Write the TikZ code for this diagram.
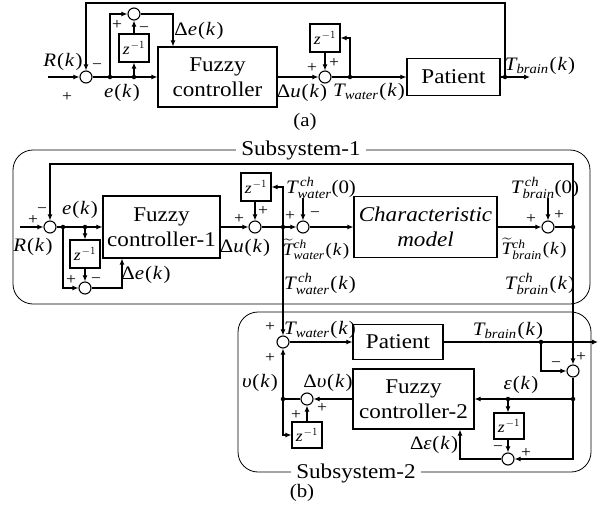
\documentclass[tikz,border=0pt]{standalone}
\usepackage{amsmath}
\usepackage{fontspec}
\setmainfont[FakeStretch=1.1]{Liberation Serif}
\usetikzlibrary{arrows.meta,calc}

\newcommand\kk{\kern0.8pt(\kern1pt\textit{k}\kern1pt)}
\newcommand\zinv{$\textit{z}^{\kern1pt-1}$}
\newcommand\Tsub[1]{$\textit{T}_{\textit{#1}}$}
\newcommand\Tch[1]{$\textit{T}^{\,\textit{ch}}_{\textit{#1}}$}
\newcommand\Ttil[1]{$\widetilde{\textit{T}}{}^{\textit{ch}}_{\textit{#1}}$}

\tikzset{
 line/.style={line width=1.1pt},
 arr/.style={line width=1.1pt,-{Latex[length=6pt,width=5pt]}},
 sumc/.style={circle,draw,line width=1.1pt,minimum size=12pt,inner sep=0pt,fill=white},
 dotn/.style={circle,fill,inner sep=0pt,minimum size=4.5pt},
 blk/.style={draw,line width=1.1pt,align=center,inner sep=0pt,font=\fontsize{21}{25}\selectfont},
 zbox/.style={draw,line width=1.1pt,inner sep=0pt,minimum width=30pt,minimum height=28pt,font=\fontsize{16}{16}\selectfont},
 lab/.style={inner sep=0pt,font=\fontsize{19}{19}\selectfont},
 tlab/.style={inner sep=0pt,font=\fontsize{17.5}{17.5}\selectfont},
 sgn/.style={inner sep=0pt,font=\fontsize{16}{16}\selectfont},
 frame/.style={draw,line width=0.8pt,rounded corners=20pt},
 ttl/.style={fill=white,inner xsep=5pt,inner ysep=1pt,font=\fontsize{21}{21}\selectfont},
}

\begin{document}
\begin{tikzpicture}[x=1pt,y=-1pt]
\useasboundingbox (0,0) rectangle (600,514);

% ---------------- (a) ----------------
\node[sumc] (sA) at (86,77) {};
\coordinate (inA) at (48,77);
\draw[arr] (inA) -- (sA);
\node[dotn] (dA1) at (110,77) {};
\node[dotn] (dA2) at (134,77) {};
\node[blk,minimum width=119pt,minimum height=60pt] (fcA) at (217.5,77) {Fuzzy\\controller};
\draw[arr] (sA) -- (fcA);
\node[sumc] (sA2) at (134,14) {};
\node[zbox] (zA) at (134,48) {\zinv};
\draw[arr] (dA1) |- (sA2);
\draw[arr] (dA2) -- (zA);
\draw[arr] (zA) -- (sA2);
\coordinate (deA) at (173,14);
\draw[arr] (sA2) -- (deA) -- (deA |- fcA.north);
\node[sumc] (sA3) at (325,77) {};
\draw[arr] (fcA) -- (sA3);
\node[zbox] (zA2) at (325,38) {\zinv};
\draw[arr] (zA2) -- (sA3);
\node[dotn] (dA3) at (350,77) {};
\draw[line] (sA3) -- (dA3);
\draw[arr] (dA3) |- (zA2);
\node[blk,minimum width=93pt,minimum height=37pt] (ptA) at (453.5,77) {Patient};
\draw[arr] (dA3) -- (ptA);
\node[dotn] (outA) at (505,77) {};
\draw[line] (ptA) -- (outA);
\coordinate (endA) at (530,77);
\draw[arr] (outA) -- (endA);
\coordinate (topA) at (86,3);
\draw[arr] (outA) |- (topA) -- (sA);

\node[lab] (lRA) at (63,62) {\textit{R}\kk};
\node[sgn] (pA1) at (67,97) {+};
\node[sgn] (mA1) at (97,67) {−};
\node[lab] (leA) at (122,93) {\textit{e}\kk};
\node[sgn] (pA2) at (117,25) {+};
\node[sgn] (mA2) at (144,30) {−};
\node[lab] (ldeA) at (199,31) {Δ\textit{e}\kk};
\node[lab] (lduA) at (302,93) {Δ\textit{u}\kk};
\node[sgn] (pA3) at (312,68) {+};
\node[sgn] (pA4) at (334,63) {+};
\node[lab] (ltwA) at (369,92) {\Tsub{water}\kk};
\node[lab] (ltbA) at (540,66) {\Tsub{brain}\kk};
\node[lab] (capA) at (305,122) {(a)};

% ---------------- (b) frames ----------------
\draw[frame] (13,150) rectangle (590,304);
\node[ttl] (t1) at (301,150) {Subsystem-1};
\draw[frame] (238,312) rectangle (591,472);
\node[ttl] (t2) at (356,473) {Subsystem-2};

% ---------------- Subsystem-1 ----------------
\node[sumc] (s1) at (50,227) {};
\coordinate (in1) at (20,227);
\draw[arr] (in1) -- (s1);
\node[dotn] (d1) at (63,227) {};
\node[dotn] (d2) at (85,227) {};
\node[blk,minimum width=117pt,minimum height=62pt] (fc1) at (161.5,227) {Fuzzy\\controller-1};
\draw[arr] (s1) -- (fc1);
\node[zbox] (z1) at (85,254) {\zinv};
\node[sumc] (s1b) at (85,288) {};
\draw[arr] (d2) -- (z1);
\draw[arr] (z1) -- (s1b);
\draw[arr] (d1) |- (s1b);
\coordinate (de1) at (122,288);
\draw[arr] (s1b) -- (de1) -- (de1 |- fc1.south);
\node[sumc] (s2) at (255,227) {};
\draw[arr] (fc1) -- (s2);
\node[zbox] (z2) at (256,187) {\zinv};
\draw[arr] (z2.south -| s2) -- (s2);
\node[dotn] (d3) at (283,227) {};
\draw[line] (s2) -- (d3);
\draw[arr] (d3) |- (z2);
\node[sumc] (s3) at (303,227) {};
\draw[arr] (d3) -- (s3);
\coordinate (tw0) at (303,198);
\draw[arr] (tw0) -- (s3);
\node[blk,font=\fontsize{21}{25}\selectfont\itshape,minimum width=143pt,minimum height=61pt] (cm) at (425.5,227) {Characteristic\\model};
\draw[arr] (s3) -- (cm);
\node[sumc] (s4) at (548,227) {};
\draw[arr] (cm) -- (s4);
\coordinate (tb0) at (548,198);
\draw[arr] (tb0) -- (s4);
\node[dotn] (d4) at (573,227) {};
\draw[line] (s4) -- (d4);
\coordinate (top1) at (50,164);
\draw[arr] (d4) |- (top1) -- (s1);

\node[sgn] (p11) at (33,220) {+};
\node[sgn] (m11) at (42,211) {−};
\node[lab] (lR1) at (33,247) {\textit{R}\kk};
\node[lab] (le1) at (80,210) {\textit{e}\kk};
\node[sgn] (p12) at (71,280) {+};
\node[sgn] (m12) at (96,281) {−};
\node[lab] (lde1) at (146,275) {Δ\textit{e}\kk};
\node[sgn] (p13) at (239,219) {+};
\node[sgn] (p14) at (263,211) {+};
\node[lab] (ldu1) at (245,248) {Δ\textit{u}\kk};
\node[sgn] (p15) at (290,216) {+};
\node[sgn] (m15) at (315,215) {−};
\node[lab] (ltw0) at (321,188) {\Tch{water}(0)};
\node[tlab] (ltwt) at (316,249) {\Ttil{water}\kk};
\node[sgn] (p16) at (531,219) {+};
\node[sgn] (p17) at (559,215) {+};
\node[lab] (ltb0) at (545,188) {\Tch{brain}(0)};
\node[tlab] (ltbt) at (534,249) {\Ttil{brain}\kk};
\node[lab] (ltwk) at (320,284) {\Tch{water}\kk};
\node[lab] (ltbk) at (540,284) {\Tch{brain}\kk};

% ---------------- Subsystem-2 ----------------
\node[sumc] (s5) at (283,342) {};
\draw[arr] (d3) -- (s5);
\node[sumc] (s6) at (573,371) {};
\draw[arr] (d4) -- (s6);
\node[blk,minimum width=90pt,minimum height=35pt] (pt2) at (398,342) {Patient};
\draw[arr] (s5) -- (pt2);
\node[dotn] (d5) at (541,342) {};
\draw[line] (pt2) -- (d5);
\coordinate (end2) at (598,342);
\draw[arr] (d5) -- (end2);
\draw[arr] (d5) |- (s6);
\node[dotn] (d6) at (573,399) {};
\draw[line] (s6) -- (d6);
\node[blk,minimum width=121pt,minimum height=60pt] (fc2) at (413.5,399) {Fuzzy\\controller-2};
\node[dotn] (d7) at (508,399) {};
\draw[arr] (d6) -- (fc2);
\node[zbox,minimum height=26pt] (z3) at (509,426) {\zinv};
\node[sumc] (s7) at (508,459) {};
\draw[arr] (d7) -- (d7 |- z3.north);
\draw[arr] (z3.south -| s7) -- (s7);
\draw[arr] (d6) |- (s7);
\coordinate (de2) at (460,459);
\draw[arr] (s7) -- (de2) -- (de2 |- fc2.south);
\node[sumc] (s8) at (307,399) {};
\draw[arr] (fc2) -- (s8);
\node[zbox,minimum height=26pt] (z4) at (307,435) {\zinv};
\draw[arr] (z4) -- (s8);
\node[dotn] (d8) at (283,399) {};
\draw[line] (s8) -- (d8);
\draw[arr] (d8) -- (s5);
\draw[arr] (d8) |- (z4);

\node[sgn] (p21) at (270,327) {+};
\node[sgn] (p22) at (270,358) {+};
\node[lab] (ltw2) at (320,330) {\Tsub{water}\kk};
\node[lab] (ltb2) at (508,331) {\Tsub{brain}\kk};
\node[sgn] (m23) at (556,365) {−};
\node[sgn] (p23) at (581,357) {+};
\node[lab] (leps) at (521,385) {\textit{ε}\kk};
\node[sgn] (m24) at (498,449) {−};
\node[sgn] (p24) at (526,453) {+};
\node[lab] (ldeps) at (434,445) {Δ\textit{ε}\kk};
\node[lab] (ldv) at (328,383) {Δ\textit{υ}\kk};
\node[lab] (lv) at (260,383) {\textit{υ}\kk};
\node[sgn] (p25) at (322,408) {+};
\node[sgn] (p26) at (296,415) {+};
\node[lab] (capB) at (302,493) {(b)};
\end{tikzpicture}
\end{document}
